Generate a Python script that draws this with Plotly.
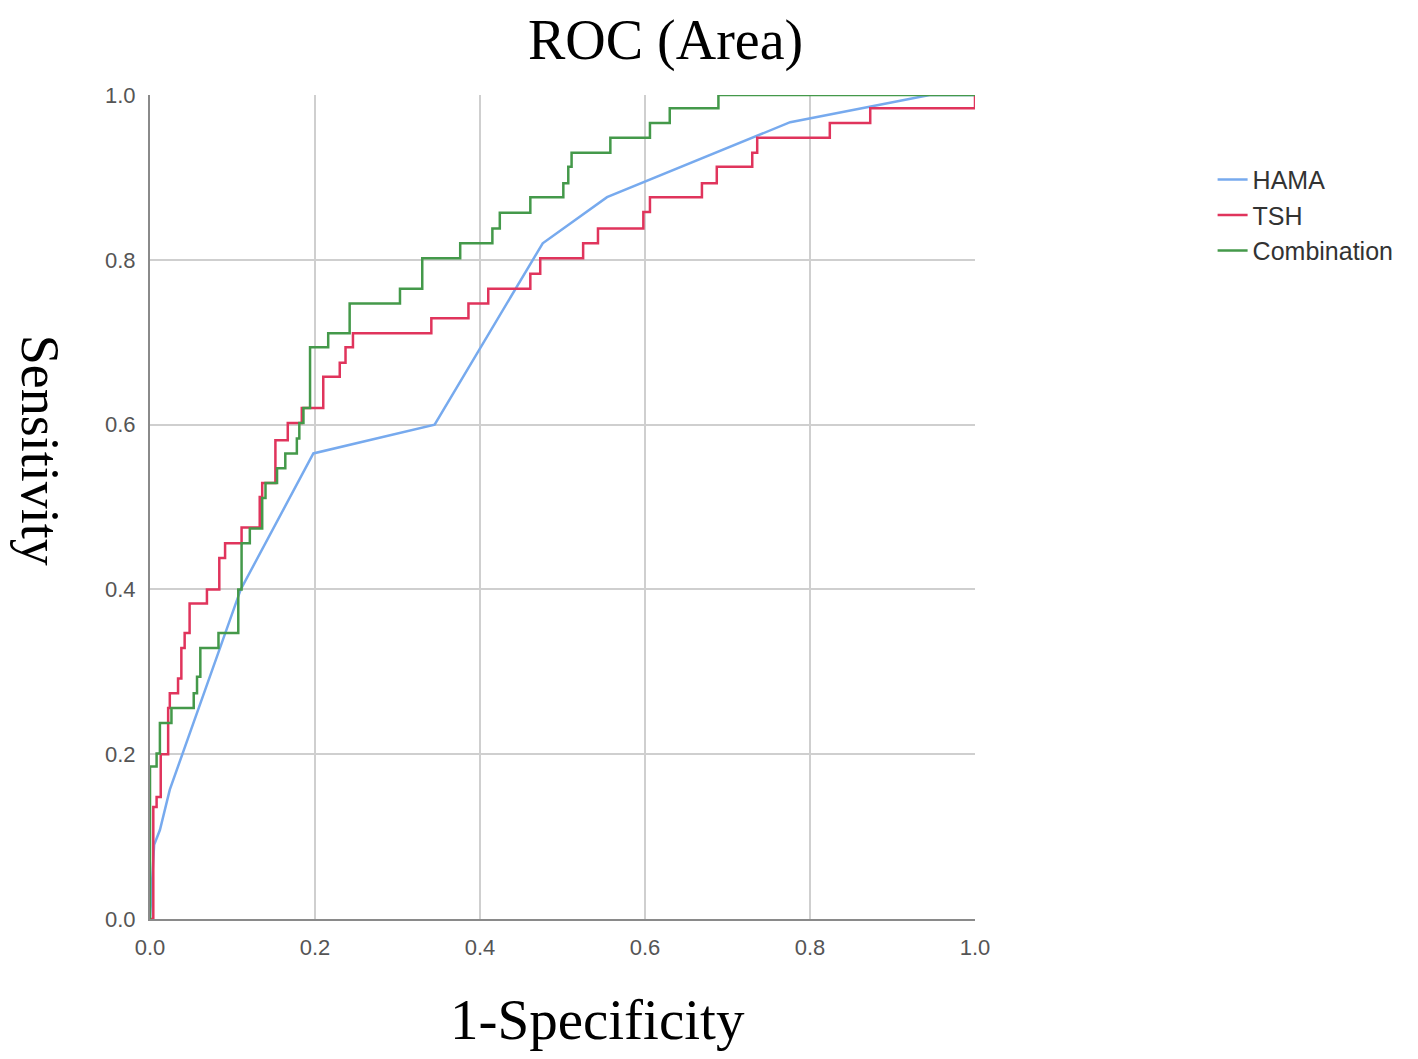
import plotly.graph_objects as go

# ROC points (1-specificity, sensitivity)
hama_fpr = [0.0, 0.005, 0.012, 0.024, 0.11, 0.198, 0.345, 0.476, 0.554, 0.776, 0.945, 1.0]
hama_tpr = [0.0, 0.09, 0.108, 0.157, 0.40, 0.565, 0.60, 0.82, 0.876, 0.967, 1.0, 1.0]

# step curves: each point is the top of a riser (drawn with hv steps)
tsh_fpr = [0.0, 0.004, 0.008, 0.013, 0.022, 0.024, 0.034, 0.038, 0.042, 0.048, 0.069, 0.084,
           0.091, 0.111, 0.133, 0.136, 0.152, 0.167, 0.184, 0.21, 0.23, 0.237, 0.246, 0.341,
           0.386, 0.41, 0.461, 0.473, 0.525, 0.543, 0.598, 0.606, 0.669, 0.687, 0.73, 0.736,
           0.824, 0.873, 1.0]
tsh_tpr = [0.0, 0.136, 0.148, 0.20, 0.256, 0.274, 0.292, 0.329, 0.347, 0.383, 0.40, 0.438,
           0.456, 0.475, 0.512, 0.529, 0.581, 0.602, 0.62, 0.658, 0.675, 0.694, 0.711, 0.729,
           0.747, 0.765, 0.783, 0.802, 0.82, 0.838, 0.858, 0.876, 0.893, 0.913, 0.93, 0.948,
           0.966, 0.984, 1.0]

comb_fpr = [0.0, 0.0, 0.008, 0.012, 0.026, 0.053, 0.057, 0.061, 0.083, 0.107, 0.111, 0.121,
            0.136, 0.140, 0.154, 0.164, 0.178, 0.181, 0.186, 0.194, 0.216, 0.242, 0.303, 0.33,
            0.376, 0.415, 0.424, 0.461, 0.501, 0.507, 0.511, 0.558, 0.606, 0.63, 0.689, 1.0]
comb_tpr = [0.0, 0.185, 0.201, 0.238, 0.256, 0.274, 0.294, 0.329, 0.347, 0.40, 0.456, 0.474,
            0.511, 0.529, 0.547, 0.565, 0.583, 0.602, 0.62, 0.694, 0.711, 0.747, 0.765, 0.802,
            0.82, 0.838, 0.857, 0.876, 0.893, 0.913, 0.93, 0.948, 0.966, 0.984, 1.0, 1.0]

tick_vals = [0.0, 0.2, 0.4, 0.6, 0.8, 1.0]

fig = go.Figure()
fig.add_trace(go.Scatter(x=hama_fpr, y=hama_tpr, mode="lines", name="HAMA",
                         line=dict(color="#77aaee", width=2.5)))
fig.add_trace(go.Scatter(x=tsh_fpr, y=tsh_tpr, mode="lines", name="TSH",
                         line=dict(color="#e0345c", width=2.5, shape="hv")))
fig.add_trace(go.Scatter(x=comb_fpr, y=comb_tpr, mode="lines", name="Combination",
                         line=dict(color="#44994a", width=2.5, shape="hv")))

axis_style = dict(
    range=[0, 1],
    tickvals=tick_vals,
    tickformat=".1f",
    showgrid=True,
    gridcolor="#cfcfcf",
    gridwidth=2,
    zeroline=False,
    showline=True,
    linecolor="#8a8a8a",
    linewidth=2,
    ticks="",
    ticklabelstandoff=8,
    tickfont=dict(family="Liberation Sans", size=22, color="#555555"),
)

# page has an 8px body margin, so the figure is a bit smaller than the window
fig.update_layout(
    width=1402,
    height=1043,
    plot_bgcolor="white",
    paper_bgcolor="white",
    margin=dict(l=142, r=435, t=87, b=132),
    title=dict(text="ROC (Area)", x=0.469, xanchor="center", y=0.970, yanchor="middle",
               font=dict(family="Liberation Serif", size=56, color="black")),
    xaxis=axis_style,
    yaxis=axis_style,
    legend=dict(x=1.288, y=0.925, xanchor="left", yanchor="top",
                font=dict(family="Liberation Sans", size=25, color="#333333"),
                bgcolor="rgba(0,0,0,0)", tracegroupgap=0),
    showlegend=True,
)

fig.add_annotation(text="1-Specificity", xref="paper", yref="paper", x=0.543, y=-0.122,
                   xanchor="center", yanchor="middle", showarrow=False,
                   font=dict(family="Liberation Serif", size=57, color="black"))
fig.add_annotation(text="Sensitivity", xref="paper", yref="paper", x=-0.134, y=0.569,
                   xanchor="center", yanchor="middle", textangle=90, showarrow=False,
                   font=dict(family="Liberation Serif", size=54, color="black"))

fig.write_html("out.html")
